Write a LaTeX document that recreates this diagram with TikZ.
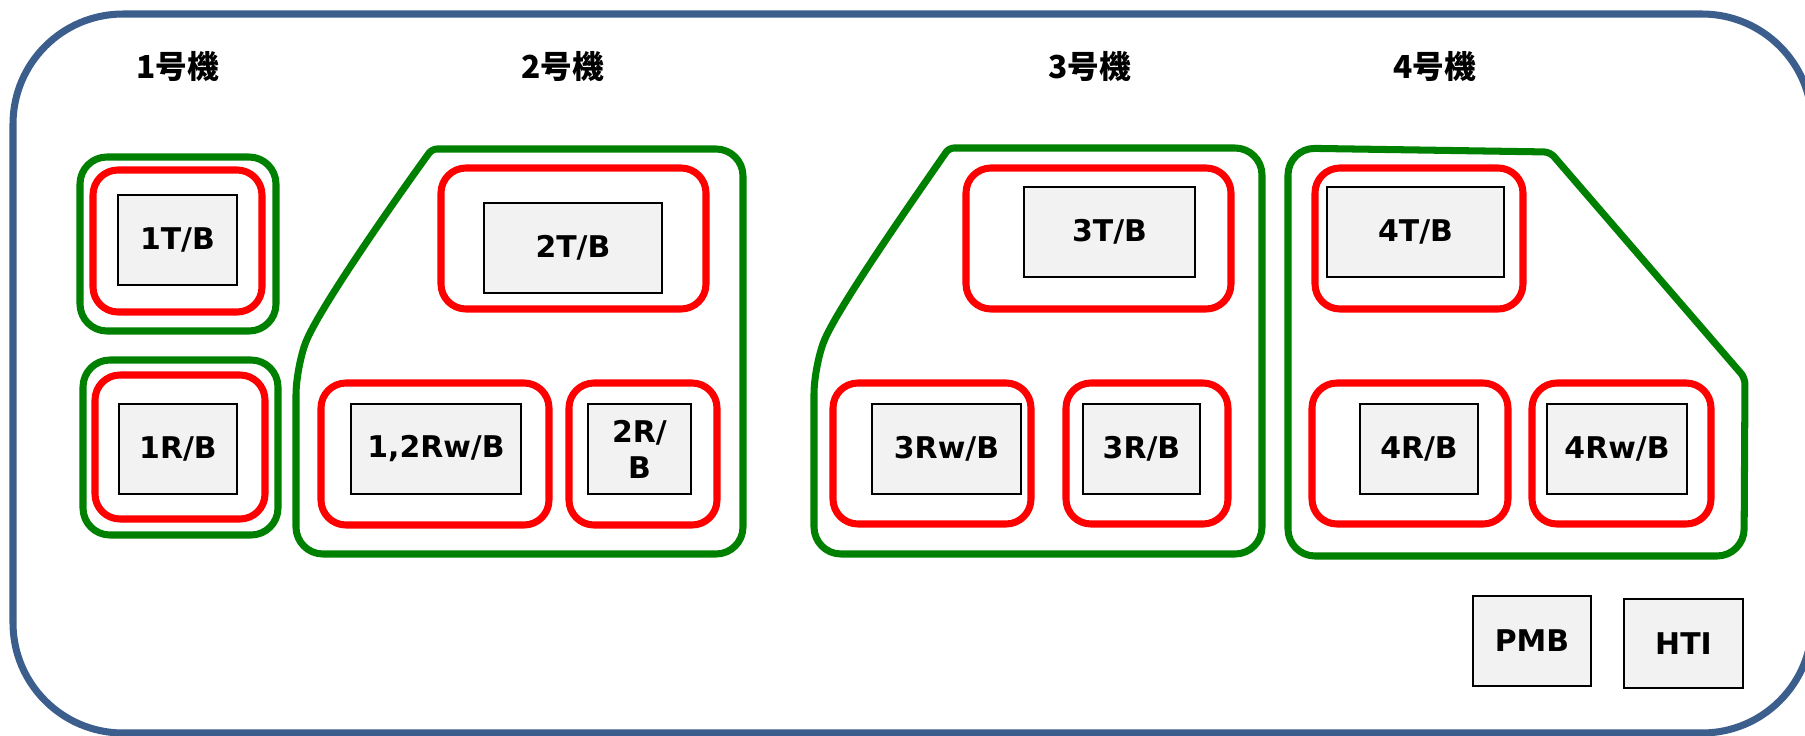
\documentclass[tikz,border=0pt]{standalone}
\usepackage{fontspec}
\setmainfont{DejaVu Sans}
\newfontfamily\cjk{Noto Sans CJK JP}
\definecolor{framecol}{RGB}{59,94,140}
\definecolor{grn}{RGB}{0,128,0}
\definecolor{boxgray}{RGB}{242,242,242}
\begin{document}
\begin{tikzpicture}[x=0.01cm,y=-0.01cm,
  frameline/.style={draw=framecol, line width=2pt, rounded corners=1.1cm},
  greengrp/.style={draw=grn, line width=2pt, rounded corners=0.27cm, line join=round},
  redgrp/.style={draw=red, line width=2pt, rounded corners=0.25cm},
  unitbox/.style={draw=black, line width=0.6pt, fill=boxgray, minimum height=0.9cm,
    inner sep=0pt, align=center, font=\fontsize{8.5pt}{10.2pt}\selectfont\bfseries},
  unitlabel/.style={inner sep=0pt, font=\cjk\fontsize{9pt}{11pt}\selectfont\bfseries}]
\useasboundingbox (0,0) rectangle (1805,736);
% outer frame
\draw[frameline] (13,14) rectangle (1812,733);
% unit labels
\node[unitlabel] (u1) at (178,66) {1号機};
\node[unitlabel] (u2) at (563,66) {2号機};
\node[unitlabel] (u3) at (1090,66) {3号機};
\node[unitlabel] (u4) at (1435,66) {4号機};
% green groups
\draw[greengrp] (80,157) rectangle (276,331);
\draw[greengrp] (83,360) rectangle (278,535);
\draw[greengrp, rounded corners=0.05cm] (296,368) .. controls (318,310) and (395,200) .. (432,149)
  [rounded corners=0.27cm] -- (743,149) -- (743,554) -- (296,554) -- cycle;
\draw[greengrp, rounded corners=0.05cm] (814,367) .. controls (836,310) and (913,200) .. (949,148)
  [rounded corners=0.27cm] -- (1262,148) -- (1262,554) -- (814,554) -- cycle;
\draw[greengrp] (1288,300) -- (1288,148)
  [rounded corners=0.06cm] -- (1550,152) -- (1745,378)
  [rounded corners=0.27cm] -- (1744,556) -- (1288,556) -- cycle;
% red groups
\draw[redgrp] (93,170) rectangle (262,312);
\draw[redgrp] (95,375) rectangle (265,519);
\draw[redgrp] (441,168) rectangle (706,309);
\draw[redgrp] (321,383) rectangle (549,525);
\draw[redgrp] (569,383) rectangle (717,525);
\draw[redgrp] (966,168) rectangle (1231,309);
\draw[redgrp] (833,383) rectangle (1031,524);
\draw[redgrp] (1066,383) rectangle (1228,524);
\draw[redgrp] (1315,168) rectangle (1523,309);
\draw[redgrp] (1312,383) rectangle (1508,524);
\draw[redgrp] (1532,383) rectangle (1711,524);
% boxes
\node[unitbox, minimum width=1.19cm] (b1T) at (177.5,240) {1T/B};
\node[unitbox, minimum width=1.18cm] (b1R) at (178,449) {1R/B};
\node[unitbox, minimum width=1.78cm] (b2T) at (573,248) {2T/B};
\node[unitbox, minimum width=1.70cm] (b12Rw) at (436,449) {1,2Rw/B};
\node[unitbox, minimum width=1.03cm] (b2R) at (639.5,449) {2R/\\B};
\node[unitbox, minimum width=1.71cm] (b3T) at (1109.5,232) {3T/B};
\node[unitbox, minimum width=1.49cm] (b3Rw) at (946.5,449) {3Rw/B};
\node[unitbox, minimum width=1.17cm] (b3R) at (1141.5,449) {3R/B};
\node[unitbox, minimum width=1.77cm] (b4T) at (1415.5,232) {4T/B};
\node[unitbox, minimum width=1.18cm] (b4R) at (1419,449) {4R/B};
\node[unitbox, minimum width=1.40cm] (b4Rw) at (1617,449) {4Rw/B};
\node[unitbox, minimum width=1.18cm] (pmb) at (1532,641) {PMB};
\node[unitbox, minimum width=1.19cm, minimum height=0.89cm] (hti) at (1683.5,643.5) {HTI};
\end{tikzpicture}
\end{document}
